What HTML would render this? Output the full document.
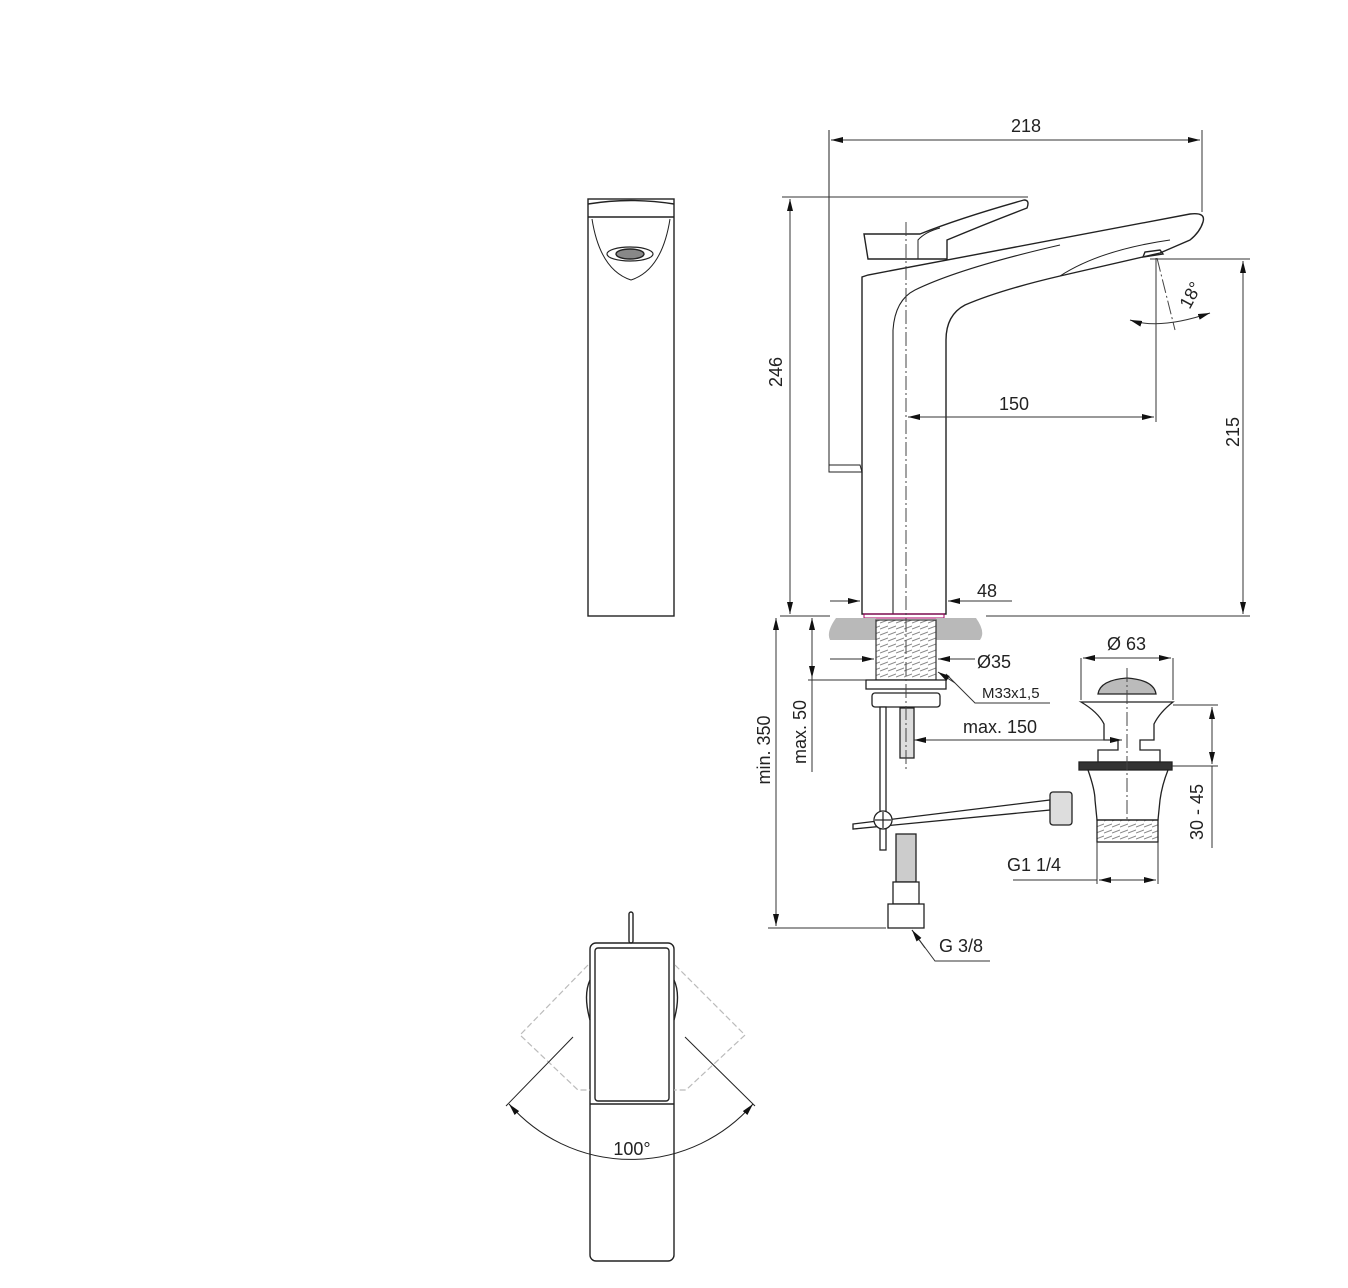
<!DOCTYPE html>
<html><head><meta charset="utf-8"><style>
html,body{margin:0;padding:0;background:#fff}
svg{display:block}
text{font-family:"Liberation Sans",Arial,sans-serif;fill:#222}
</style></head><body>
<svg width="1348" height="1288" viewBox="0 0 1348 1288" xmlns="http://www.w3.org/2000/svg">
<defs>
<marker id="a" viewBox="0 0 12 6" refX="12" refY="3" markerWidth="12" markerHeight="6" orient="auto-start-reverse" markerUnits="userSpaceOnUse"><path d="M0,0 L12,3 L0,6z" fill="#111"/></marker>
<pattern id="th" width="8" height="6" patternUnits="userSpaceOnUse"><line x1="0" y1="5" x2="8" y2="2" stroke="#888" stroke-width="1"/></pattern>
</defs>
<g fill="none" stroke="#222" stroke-width="1.4">
<!-- front view -->
<rect x="588" y="199" width="86" height="417"/>
<path d="M588 204 Q631 197 674 204"/>
<line x1="588" y1="217" x2="674" y2="217"/>
<path d="M592 219 Q600 270 631 280 Q662 270 670 219" stroke-width="1"/>
<ellipse cx="630" cy="254" rx="23" ry="7" stroke-width="1.2"/>
<ellipse cx="630" cy="254" rx="14" ry="5" fill="#888"/>

<!-- top view -->
<rect x="629" y="912" width="4" height="31" rx="2"/>
<rect x="590" y="943" width="84" height="318" rx="6"/>
<rect x="595" y="948" width="74" height="153" rx="3"/>
<line x1="590" y1="1104" x2="674" y2="1104"/>
<path d="M590 980 Q583 995 590 1020 M674 980 Q681 995 674 1020"/>
<g stroke="#bbb" stroke-dasharray="6 3" stroke-width="1.2">
<path d="M588 965 L520 1035 L578 1090 L590 1090"/>
<path d="M675 965 L745 1035 L686 1090 L674 1090"/>
</g>
<line x1="573" y1="1037" x2="506" y2="1106" stroke-width="1"/>
<line x1="685" y1="1037" x2="755" y2="1106" stroke-width="1"/>
<path d="M509 1104 A162 162 0 0 0 753 1104" stroke-width="1" marker-start="url(#a)" marker-end="url(#a)"/>

<!-- side view body -->
<path d="M862 614 L862 277 L868 275 L1190 214 Q1206 212 1203 222 Q1200 232 1190 240 L1160 253 L1060 276 Q1000 290 965 305 Q946 315 946 340 L946 614 Z" fill="#fff"/>
<path d="M893 614 L893 330 Q895 300 915 290 Q960 268 1060 245" stroke-width="1.1"/>
<path d="M1060 276 Q1100 250 1170 240" stroke-width="1"/>
<path d="M864 234 L920 234 Q960 218 1024 200 Q1030 200 1027 208 Q990 222 947 240 L947 259 L868 259 Z" fill="#fff"/>
<path d="M918 259 L918 240 Q925 232 940 228" stroke-width="1"/>
<path d="M1143 257 L1145 252 L1160 250 L1163 254 Z"/>
<path d="M829 130 L829 465 L860 465 L862 472 L829 472 Z" stroke-width="1"/>
<rect x="864" y="614" width="80" height="4" stroke="#a06" stroke-width="1"/>
</g>
<!-- counter -->
<path d="M836 618 L876 618 L876 640 L830 640 Q826 632 836 618 Z M936 618 L976 618 Q986 632 980 640 L936 640 Z" fill="#b9b9b9"/>
<rect x="876" y="620" width="60" height="60" fill="url(#th)" stroke="#333" stroke-width="1.2"/>
<g fill="#fff" stroke="#222" stroke-width="1.3">
<rect x="866" y="680" width="80" height="9"/>
<rect x="872" y="693" width="68" height="14" rx="3"/>
<rect x="880" y="707" width="6" height="143"/>
<rect x="900" y="708" width="14" height="50" fill="#ddd"/>
<line x1="853" y1="829" x2="1050" y2="805"/>
<path d="M853 824 L1050 800 L1050 810 L853 829 Z"/>
<circle cx="883" cy="820" r="9"/>
<rect x="896" y="834" width="20" height="48" fill="#ccc"/>
<rect x="893" y="882" width="26" height="22"/>
<rect x="888" y="904" width="36" height="24"/>
<!-- waste -->
<path d="M1081 702 L1173 702 Q1160 712 1154 724 L1154 740 L1140 740 L1140 750 L1160 750 L1160 762 L1098 762 L1098 750 L1118 750 L1118 740 L1104 740 L1104 724 Q1098 712 1081 702 Z"/>
<path d="M1098 694 Q1100 680 1127 678 Q1154 680 1156 694 Z" fill="#bbb"/>
<rect x="1079" y="762" width="93" height="8" fill="#333"/>
<path d="M1088 770 Q1095 790 1095 800 L1097 820 L1158 820 L1160 800 Q1162 785 1168 770 Z"/>
<rect x="1097" y="820" width="61" height="22" fill="url(#th)"/>
<rect x="1050" y="792" width="22" height="33" rx="3" fill="#ddd"/>
</g>
<g stroke="#222" stroke-width="1.2"><line x1="883" y1="812" x2="883" y2="828"/><line x1="875" y1="820" x2="891" y2="820"/></g>
<!-- center lines -->
<g stroke="#444" stroke-width="1" stroke-dasharray="14 3 2 3">
<line x1="906" y1="222" x2="906" y2="770"/>
<line x1="1127" y1="668" x2="1127" y2="820"/>
<line x1="1157" y1="258" x2="1175" y2="330"/>
</g>
<!-- dimension lines -->
<g stroke="#333" stroke-width="1" fill="none">
<line x1="831" y1="140" x2="1200" y2="140" marker-start="url(#a)" marker-end="url(#a)"/>
<line x1="1202" y1="130" x2="1202" y2="212"/>
<line x1="782" y1="197" x2="1028" y2="197"/>
<line x1="790" y1="199" x2="790" y2="614" marker-start="url(#a)" marker-end="url(#a)"/>
<line x1="1150" y1="259" x2="1250" y2="259"/>
<line x1="1243" y1="261" x2="1243" y2="614" marker-start="url(#a)" marker-end="url(#a)"/>
<line x1="908" y1="417" x2="1154" y2="417" marker-start="url(#a)" marker-end="url(#a)"/>
<line x1="1156" y1="258" x2="1156" y2="422"/>
<path d="M1130 320 Q1160 330 1210 313" marker-start="url(#a)" marker-end="url(#a)" transform=""/>
<line x1="830" y1="601" x2="860" y2="601" marker-end="url(#a)"/>
<line x1="1012" y1="601" x2="948" y2="601" marker-end="url(#a)"/>
<line x1="780" y1="616" x2="830" y2="616"/>
<line x1="986" y1="616" x2="1250" y2="616"/>
<line x1="830" y1="659" x2="874" y2="659" marker-end="url(#a)"/>
<line x1="975" y1="659" x2="938" y2="659" marker-end="url(#a)"/>
<polyline points="1050,703 975,703 946,674" />
<line x1="955" y1="683" x2="938" y2="672" marker-end="url(#a)"/>
<line x1="914" y1="740" x2="1122" y2="740" marker-start="url(#a)" marker-end="url(#a)"/>
<line x1="776" y1="618" x2="776" y2="926" marker-start="url(#a)" marker-end="url(#a)"/>
<line x1="768" y1="928" x2="886" y2="928"/>
<line x1="812" y1="618" x2="812" y2="678" marker-start="url(#a)" marker-end="url(#a)"/>
<line x1="812" y1="678" x2="812" y2="772"/>
<line x1="808" y1="680" x2="866" y2="680"/>
<line x1="1083" y1="658" x2="1171" y2="658" marker-start="url(#a)" marker-end="url(#a)"/>
<line x1="1081" y1="658" x2="1081" y2="700"/>
<line x1="1173" y1="658" x2="1173" y2="700"/>
<line x1="1173" y1="705" x2="1218" y2="705"/>
<line x1="1172" y1="766" x2="1218" y2="766"/>
<line x1="1212" y1="707" x2="1212" y2="764" marker-start="url(#a)" marker-end="url(#a)"/>
<line x1="1212" y1="766" x2="1212" y2="848"/>
<line x1="1013" y1="880" x2="1097" y2="880"/>
<line x1="1099" y1="880" x2="1156" y2="880" marker-start="url(#a)" marker-end="url(#a)"/>
<line x1="1097" y1="842" x2="1097" y2="884"/>
<line x1="1158" y1="842" x2="1158" y2="884"/>
<polyline points="990,961 935,961 912,930"/>
<line x1="925" y1="948" x2="912" y2="930" marker-end="url(#a)"/>
</g>
<!-- texts -->
<g font-size="18">
<text x="1026" y="132" text-anchor="middle">218</text>
<text transform="translate(782,372) rotate(-90)" text-anchor="middle">246</text>
<text transform="translate(1239,432) rotate(-90)" text-anchor="middle">215</text>
<text x="1014" y="410" text-anchor="middle">150</text>
<text transform="translate(1196,298) rotate(-62)" text-anchor="middle">18°</text>
<text x="987" y="597" text-anchor="middle">48</text>
<text x="977" y="668">Ø35</text>
<text x="1107" y="650">Ø 63</text>
<text x="963" y="733">max. 150</text>
<text transform="translate(770,750) rotate(-90)" text-anchor="middle">min. 350</text>
<text transform="translate(806,732) rotate(-90)" text-anchor="middle">max. 50</text>
<text transform="translate(1203,812) rotate(-90)" text-anchor="middle">30 - 45</text>
<text x="1007" y="871">G1 1/4</text>
<text x="939" y="952">G 3/8</text>
<text x="632" y="1155" text-anchor="middle">100°</text>
<text x="982" y="698" font-size="15">M33x1,5</text>
</g>
</svg>
</body></html>
